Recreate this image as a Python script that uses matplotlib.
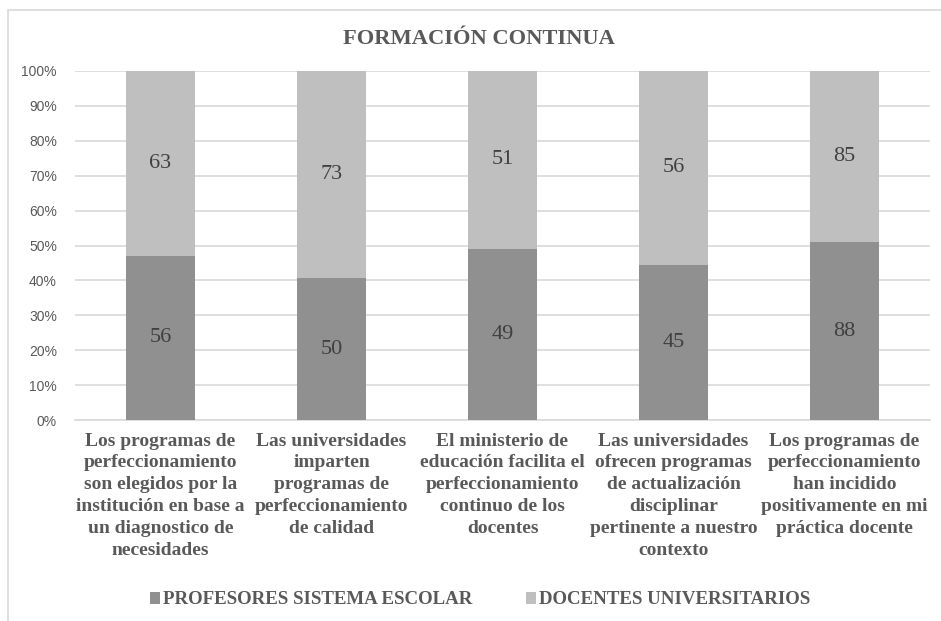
import matplotlib
matplotlib.use("Agg")
import matplotlib.pyplot as plt
from matplotlib.patches import Rectangle
import numpy as np

categories = [
    "Los programas de\nperfeccionamiento\nson elegidos por la\ninstitución en base a\nun diagnostico de\nnecesidades",
    "Las universidades\nimparten\nprogramas de\nperfeccionamiento\nde calidad",
    "El ministerio de\neducación facilita el\nperfeccionamiento\ncontinuo de los\ndocentes",
    "Las universidades\nofrecen programas\nde actualización\ndisciplinar\npertinente a nuestro\ncontexto",
    "Los programas de\nperfeccionamiento\nhan incidido\npositivamente en mi\npráctica docente",
]
profesores = [56, 50, 49, 45, 88]
docentes = [63, 73, 51, 56, 85]
series_names = ["PROFESORES SISTEMA ESCOLAR", "DOCENTES UNIVERSITARIOS"]
yticks = [0, 10, 20, 30, 40, 50, 60, 70, 80, 90, 100]

c_dark = "#909090"
c_light = "#bfbfbf"
txt = "#595959"

fig = plt.figure(figsize=(9.41, 6.21), dpi=100)
# outer chart frame
fig.patches.append(Rectangle((8/941, -0.01), 1.02, 1 - 10/621 + 0.01, transform=fig.transFigure,
                             fill=False, edgecolor="#d9d9d9", linewidth=1.2))

ax = fig.add_axes([75/941, 1 - 420/621, (930 - 75)/941, (420 - 71)/621])

p = np.array(profesores, float)
d = np.array(docentes, float)
tot = p + d
pp = p / tot * 100
dp = d / tot * 100
x = np.arange(len(categories))
w = 0.4
b1 = ax.bar(x, pp, w, color=c_dark, label=series_names[0], zorder=3)
b2 = ax.bar(x, dp, w, bottom=pp, color=c_light, label=series_names[1], zorder=3)

for i in range(len(x)):
    ax.text(x[i], pp[i] / 2, str(profesores[i]), ha="center", va="center",
            fontsize=16, family="Liberation Serif", color="#404040", zorder=4)
    ax.text(x[i], pp[i] + dp[i] / 2, str(docentes[i]), ha="center", va="center",
            fontsize=16, family="Liberation Serif", color="#404040", zorder=4)

ax.set_xlim(-0.5, len(x) - 0.5)
ax.set_ylim(0, 100)
ax.set_yticks(yticks)
ax.set_yticklabels([f"{t}%" for t in yticks], fontsize=10, family="Liberation Sans", color=txt)
ax.yaxis.grid(True, color="#d9d9d9", linewidth=1.2, zorder=0)
ax.set_axisbelow(True)
for s in ["top", "right", "left"]:
    ax.spines[s].set_visible(False)
ax.spines["bottom"].set_color("#d9d9d9")
ax.spines["bottom"].set_linewidth(1.2)
ax.tick_params(axis="both", length=0)
ax.tick_params(axis="y", pad=13)
ax.set_xticks(x)
ax.set_xticklabels(categories, fontsize=14, family="Liberation Serif", fontweight="bold",
                   color=txt, va="top", linespacing=1.38)
ax.tick_params(axis="x", pad=9)

fig.text(479/941, 1 - 39/621, "FORMACIÓN CONTINUA", ha="center", va="center",
         fontsize=16.2, family="Liberation Serif", fontweight="bold", color=txt)

leg = fig.legend(handles=[b1, b2], labels=series_names, loc="center",
                 bbox_to_anchor=(480/941, 1 - 600/621), ncol=2, frameon=False,
                 prop={"family": "Liberation Serif", "weight": "bold", "size": 13.6},
                 handlelength=0.55, handleheight=0.55, handletextpad=0.15, columnspacing=2.8)
for t in leg.get_texts():
    t.set_color(txt)

fig.savefig("out.png", dpi=100)
